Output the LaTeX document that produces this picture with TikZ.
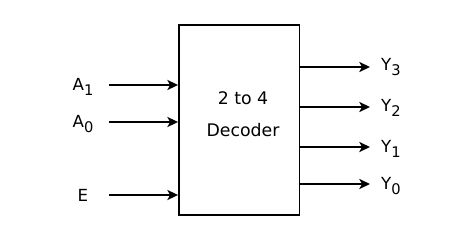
\documentclass[tikz,border=0pt]{standalone}
\usepackage{fontspec}
\setmainfont{DejaVu Sans}
\usetikzlibrary{arrows.meta,positioning}
\newcommand{\sigsub}[1]{\raisebox{-0.28em}{\fontsize{11}{12}\selectfont #1}}
\begin{document}
\begin{tikzpicture}[x=0.75pt,y=-0.75pt,
    sig/.style={line width=1.4pt,-{Stealth[length=8pt,width=7.5pt,inset=2pt]}},
    lbl/.style={font=\fontsize{12.5}{14}\selectfont,inner sep=0pt}]
    \useasboundingbox (0,0) rectangle (467,243);
    \node[draw,line width=1.3pt,minimum width=90.4pt,minimum height=142.5pt,inner sep=0pt] (dec) at (239.2,120) {};
    \node[align=center,font=\fontsize{13}{24}\selectfont,inner sep=0pt] (dectxt) at (243,114) {2 to 4\\Decoder};
    % inputs
    \coordinate (a1) at (109,85); \coordinate (a0) at (109,122); \coordinate (en) at (109,195);
    \node[lbl] (la1) at (83,87) {A\sigsub{1}};
    \node[lbl] (la0) at (83,124) {A\sigsub{0}};
    \node[lbl] (len) at (83,195) {E};
    \draw[sig] (a1) -- (a1 -| dec.west);
    \draw[sig] (a0) -- (a0 -| dec.west);
    \draw[sig] (en) -- (en -| dec.west);
    % outputs
    \coordinate (y3) at (370,67); \coordinate (y2) at (370,107);
    \coordinate (y1) at (370,147); \coordinate (y0) at (370,184);
    \draw[sig] (y3 -| dec.east) -- (y3); \node[lbl] (ly3) at (391,67) {Y\sigsub{3}};
    \draw[sig] (y2 -| dec.east) -- (y2); \node[lbl] (ly2) at (391,108) {Y\sigsub{2}};
    \draw[sig] (y1 -| dec.east) -- (y1); \node[lbl] (ly1) at (391,149) {Y\sigsub{1}};
    \draw[sig] (y0 -| dec.east) -- (y0); \node[lbl] (ly0) at (391,186) {Y\sigsub{0}};
\end{tikzpicture}
\end{document}
